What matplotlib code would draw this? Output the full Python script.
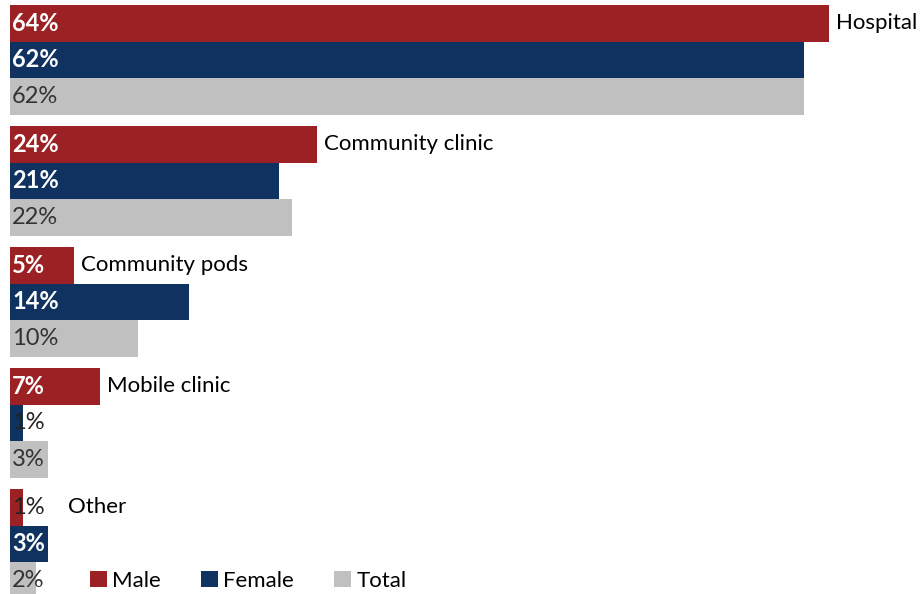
import matplotlib
matplotlib.use("Agg")
import matplotlib.pyplot as plt
from matplotlib.patches import Patch

plt.rcParams["font.family"] = ["Lato", "DejaVu Sans"]

# Where people went, share by sex (percent)
categories = ["Hospital", "Community clinic", "Community pods", "Mobile clinic", "Other"]
series = ["Male", "Female", "Total"]
male = [64, 24, 5, 7, 1]
female = [62, 21, 14, 1, 3]
total = [62, 22, 10, 3, 2]

COLORS = ["#9C2124", "#0F3260", "#C0C0C0"]
TEXT_COLORS = ["white", "white", "#333333"]
WEIGHTS = ["bold", "bold", "normal"]

# layout in pixels (figure drawn at 100 dpi, axes fill the figure)
W, H = 921, 594
X0 = 10            # left edge of the bars
PX_PER_PCT = 12.8
TOP = 5            # top of first group
BAR_H = 36.6
GROUP_STEP = 121

fig = plt.figure(figsize=(W / 100, H / 100), dpi=100)
ax = fig.add_axes([0, 0, 1, 1])
ax.set_xlim(-X0 / PX_PER_PCT, (W - X0) / PX_PER_PCT)
ax.set_ylim(H, 0)
ax.axis("off")

values = [male, female, total]
for g, cat in enumerate(categories):
    for k, vals in enumerate(values):
        v = vals[g]
        yc = TOP + g * GROUP_STEP + (k + 0.5) * BAR_H
        ax.barh(yc, v, height=BAR_H, left=0, color=COLORS[k], linewidth=0)
        # labels on very thin bars would vanish in white, so draw them dark
        tiny = v < 2
        ax.annotate(f"{v}%", xy=(0, yc), xytext=(1.5, 0), textcoords="offset points",
                    ha="left", va="center", fontsize=17,
                    color="#222222" if tiny else TEXT_COLORS[k],
                    fontweight="normal" if tiny else WEIGHTS[k])
    # category name sits right of the male bar
    yc = TOP + g * GROUP_STEP + 0.5 * BAR_H
    ax.annotate(cat, xy=(max(male[g], 4.0), yc), xytext=(5, 0),
                textcoords="offset points", ha="left", va="center",
                fontsize=16, color="black")

handles = [Patch(facecolor=c, edgecolor="none") for c in COLORS]
fig.legend(handles, series, loc="center left", bbox_to_anchor=(90 / W, 1 - 581 / H),
           ncol=3, frameon=False, fontsize=16, handlelength=0.75, handleheight=0.75,
           handletextpad=0.25, columnspacing=1.8, borderpad=0, borderaxespad=0)

fig.savefig("out.png", dpi=100)
